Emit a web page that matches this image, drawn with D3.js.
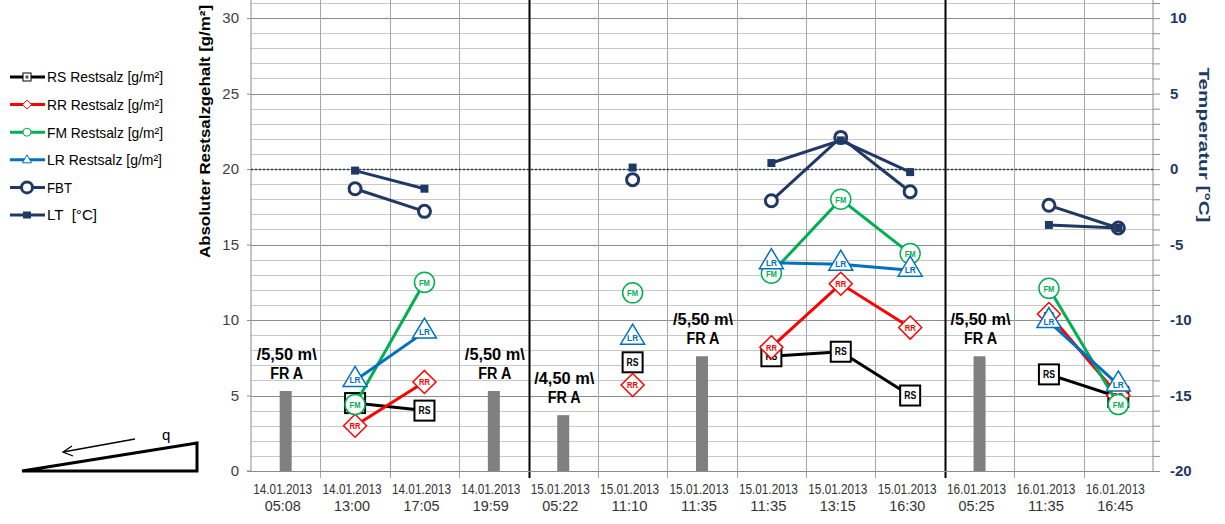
<!DOCTYPE html>
<html><head><meta charset="utf-8">
<script src="https://cdn.jsdelivr.net/npm/d3@7"></script>
<style>
body{margin:0;background:#fff;}
svg{display:block;}
.leg text{white-space:pre;}
</style></head>
<body>
<svg id="c" width="1225" height="524"></svg>
<script>
// ---- data ----
const dates = ["14.01.2013","14.01.2013","14.01.2013","14.01.2013","15.01.2013","15.01.2013","15.01.2013","15.01.2013","15.01.2013","15.01.2013","16.01.2013","16.01.2013","16.01.2013"];
const times = ["05:08","13:00","17:05","19:59","05:22","11:10","11:35","11:35","13:15","16:30","05:25","11:35","16:45"];
const rsValues  = [null,4.5,4.0,null,null,7.2,null,7.6,7.9,5.0,null,6.4,4.9];
const rrValues  = [null,3.0,5.9,null,null,5.7,null,8.2,12.4,9.5,null,10.4,5.0];
const fmValues  = [null,4.4,12.5,null,null,11.8,null,13.1,18.0,14.4,null,12.1,4.4];
const lrValues  = [null,6.0,9.2,null,null,8.8,null,13.8,13.7,13.3,null,9.9,5.7];
const fbtValues = [null,-1.3,-2.8,null,null,-0.7,null,-2.1,2.1,-1.5,null,-2.4,-3.9];
const ltValues  = [null,-0.1,-1.3,null,null,0.1,null,0.4,1.9,-0.2,null,-3.7,-3.9];
const frValues  = [5.3,null,null,5.3,3.7,null,7.6,null,null,null,7.6,null,null];
const frLabels  = ["/5,50 m\\",null,null,"/5,50 m\\","/4,50 m\\",null,"/5,50 m\\",null,null,null,"/5,50 m\\",null,null];
const frSub = "FR A";
const leftTicks = [0,5,10,15,20,25,30];
const rightTicks = [-20,-15,-10,-5,0,5,10];
const daySeparators = [4,10];
const legendNames = ["RS Restsalz [g/m²]","RR Restsalz [g/m²]","FM Restsalz [g/m²]","LR Restsalz [g/m²]","FBT","LT  [°C]"];

// ---- layout ----
const svg = d3.select("#c");
const L = 251, R = 1153, B = 471;
const idx = d3.range(dates.length);
const x = d3.scaleBand().domain(idx).range([L, R]).padding(0);
const y = d3.scaleLinear().domain([0, 31.2]).range([B, 0]);
const yT = d3.scaleLinear().domain([-20, 11.2]).range([B, 0]);
const cx = i => x(i) + x.bandwidth()/2;
const sans = "Arial, 'Liberation Sans', sans-serif";
const navy = "#1F3864";

// horizontal grid
const g = svg.append("g");
g.selectAll("line.hmin").data(d3.range(0, 32, 1)).join("line")
  .attr("x1", L).attr("x2", R).attr("y1", d => Math.round(y(d))+0.5).attr("y2", d => Math.round(y(d))+0.5)
  .attr("stroke", d => d % 5 === 0 ? "#8c8c8c" : "#c8c8c8").attr("stroke-width", 1);
// vertical grid
g.selectAll("line.v").data(d3.range(1, dates.length)).join("line")
  .attr("x1", d => Math.round(x(d))+0.5).attr("x2", d => Math.round(x(d))+0.5)
  .attr("y1", 0).attr("y2", B+7)
  .attr("stroke", d => daySeparators.includes(d) ? "#000" : "#a6a6a6")
  .attr("stroke-width", d => daySeparators.includes(d) ? 2 : 1);

// left axis
const ax = svg.append("g").attr("transform", `translate(${L},0)`)
  .call(d3.axisLeft(y).tickValues(leftTicks).tickSize(4).tickPadding(8));
ax.select(".domain").attr("stroke", "#8c8c8c").attr("d", `M-4,${B}H0V0`);
ax.selectAll(".tick line").attr("stroke", "#8c8c8c");
ax.selectAll("text").attr("font-family", sans).attr("font-size", 15).attr("fill", "#404040");

// right axis
const ar = svg.append("g").attr("transform", `translate(${R},0)`);
ar.call(d3.axisRight(yT).tickValues(d3.range(-20, 12, 1)).tickSize(7).tickFormat(""));
ar.select(".domain").attr("stroke", "#8c8c8c").attr("d", `M0,${B}V0`);
ar.selectAll(".tick line").attr("stroke", "#8c8c8c");
ar.selectAll("text.rt").data(rightTicks).join("text").attr("class", "rt")
  .attr("x", 17).attr("y", d => yT(d)).attr("dy", "0.35em")
  .attr("font-family", sans).attr("font-size", 15).attr("font-weight", "bold")
  .attr("fill", navy).text(d => d);

// bottom axis line
svg.append("line").attr("x1", L).attr("x2", R).attr("y1", B+0.5).attr("y2", B+0.5).attr("stroke", "#8c8c8c");

// x labels
const xl = svg.append("g").attr("font-family", sans).attr("font-size", 14).attr("fill", "#333").attr("text-anchor", "middle");
xl.selectAll("text.d").data(idx).join("text").attr("class", "d").attr("x", i => cx(i)-3).attr("y", 494)
  .attr("textLength", 59).attr("lengthAdjust", "spacingAndGlyphs").text(i => dates[i]);
xl.selectAll("text.t").data(idx).join("text").attr("class", "t").attr("x", i => cx(i)-3).attr("y", 511)
  .attr("textLength", 36).attr("lengthAdjust", "spacingAndGlyphs").text(i => times[i]);

// axis titles
svg.append("text").attr("transform", `translate(210,${(5+258)/2}) rotate(-90)`).attr("text-anchor", "middle")
  .attr("font-family", sans).attr("font-weight", "bold").attr("font-size", 15).attr("fill", "#000")
  .attr("textLength", 253).attr("lengthAdjust", "spacingAndGlyphs")
  .text("Absoluter Restsalzgehalt [g/m²]");
svg.append("text").attr("transform", `translate(1199,145) rotate(90)`).attr("text-anchor", "middle")
  .attr("font-family", sans).attr("font-weight", "bold").attr("font-size", 15).attr("fill", navy)
  .attr("textLength", 155).attr("lengthAdjust", "spacingAndGlyphs")
  .text("Temperatur [°C]");

// zero-temperature dotted line
svg.append("line").attr("x1", L).attr("x2", R).attr("y1", Math.round(yT(0))+0.5).attr("y2", Math.round(yT(0))+0.5)
  .attr("stroke", navy).attr("stroke-width", 1.3).attr("stroke-dasharray", "2,2");

// FR bars
const bars = svg.append("g");
const frIdx = idx.filter(i => frValues[i] != null);
bars.selectAll("rect").data(frIdx).join("rect")
  .attr("x", i => cx(i)-6).attr("width", 12).attr("y", i => y(frValues[i])).attr("height", i => B - y(frValues[i]))
  .attr("fill", "#808080");
bars.selectAll("text.l1").data(frIdx).join("text").attr("class", "l1")
  .attr("x", i => cx(i)+1).attr("y", i => y(frValues[i]) - 31).attr("text-anchor", "middle")
  .attr("font-family", sans).attr("font-weight", "bold").attr("font-size", 16)
  .attr("textLength", 60).attr("lengthAdjust", "spacingAndGlyphs").text(i => frLabels[i]);
bars.selectAll("text.l2").data(frIdx).join("text").attr("class", "l2")
  .attr("x", i => cx(i)+1).attr("y", i => y(frValues[i]) - 12).attr("text-anchor", "middle")
  .attr("font-family", sans).attr("font-weight", "bold").attr("font-size", 16)
  .attr("textLength", 33).attr("lengthAdjust", "spacingAndGlyphs").text(frSub);

// marker shapes
function drawMarker(sel, type, color, label) {
  if (type === "square") sel.append("rect").attr("x", -10).attr("y", -10).attr("width", 20).attr("height", 20).attr("fill", "#fff").attr("stroke", color).attr("stroke-width", 2);
  if (type === "diamond") sel.append("path").attr("d", "M0,-11.5L11.5,0L0,11.5L-11.5,0Z").attr("fill", "#fff").attr("stroke", color).attr("stroke-width", 1.5);
  if (type === "circle") sel.append("circle").attr("r", 10).attr("fill", "#fff").attr("stroke", color).attr("stroke-width", 1.5);
  if (type === "triangle") sel.append("path").attr("d", "M0,-14L12,6L-12,6Z").attr("fill", "#fff").attr("stroke", color).attr("stroke-width", 1.5);
  if (label) sel.append("text").attr("text-anchor", "middle").attr("y", type === "triangle" ? 3 : 3.5)
    .attr("font-family", sans).attr("font-weight", "bold").attr("font-size", type === "square" ? 10 : 9)
    .attr("textLength", type === "square" ? 12 : 11).attr("lengthAdjust", "spacingAndGlyphs")
    .attr("fill", color).text(label);
}

const salt = [
  {vals: rsValues, color: "#000000", type: "square", label: "RS"},
  {vals: rrValues, color: "#FF0000", type: "diamond", label: "RR"},
  {vals: fmValues, color: "#00B050", type: "circle", label: "FM"},
  {vals: lrValues, color: "#0070C0", type: "triangle", label: "LR"}
];
const lineGen = sc => d3.line().defined(d => d.v != null).x(d => cx(d.i)).y(d => sc(d.v));

salt.forEach(s => {
  const pts = idx.map(i => ({i, v: s.vals[i]}));
  const sg = svg.append("g");
  sg.append("path").attr("d", lineGen(y)(pts)).attr("fill", "none").attr("stroke", s.color).attr("stroke-width", 3);
  pts.filter(d => d.v != null).forEach(d => {
    drawMarker(sg.append("g").attr("transform", `translate(${cx(d.i)},${y(d.v)})`), s.type, s.color, s.label);
  });
});

// temperature series
{
  const pts = idx.map(i => ({i, v: fbtValues[i]}));
  const sg = svg.append("g");
  sg.append("path").attr("d", lineGen(yT)(pts)).attr("fill", "none").attr("stroke", navy).attr("stroke-width", 3);
  sg.selectAll("circle").data(pts.filter(d => d.v != null)).join("circle")
    .attr("cx", d => cx(d.i)).attr("cy", d => yT(d.v)).attr("r", 6).attr("fill", "#fff").attr("stroke", navy).attr("stroke-width", 3);
}
{
  const pts = idx.map(i => ({i, v: ltValues[i]}));
  const sg = svg.append("g");
  sg.append("path").attr("d", lineGen(yT)(pts)).attr("fill", "none").attr("stroke", navy).attr("stroke-width", 3);
  sg.selectAll("rect").data(pts.filter(d => d.v != null)).join("rect")
    .attr("x", d => cx(d.i)-4).attr("y", d => yT(d.v)-4).attr("width", 8).attr("height", 8).attr("fill", navy);
}

// legend
const lg = svg.append("g").attr("class", "leg");
const legColors = ["#000000","#FF0000","#00B050","#0070C0",navy,navy];
const legLen = [116,116,116,115,25,50];
legendNames.forEach((name, k) => {
  const yy = 77 + k*27.6;
  const it = lg.append("g").attr("transform", `translate(0,${yy})`);
  it.append("line").attr("x1", 10).attr("x2", 45).attr("y1", 0).attr("y2", 0).attr("stroke", legColors[k]).attr("stroke-width", 3);
  const m = it.append("g").attr("transform", "translate(27,0)");
  if (k === 0) { m.append("rect").attr("x", -4).attr("y", -4).attr("width", 8).attr("height", 8).attr("fill", "#fff").attr("stroke", "#000").attr("stroke-width", 1); m.append("rect").attr("x",-1.5).attr("y",-1.5).attr("width",3).attr("height",3).attr("fill","#555"); }
  if (k === 1) m.append("path").attr("d", "M0,-4.5L4.5,0L0,4.5L-4.5,0Z").attr("fill", "#fff").attr("stroke", "#FF0000").attr("stroke-width", 1);
  if (k === 2) m.append("circle").attr("r", 4).attr("fill", "#fff").attr("stroke", "#00B050").attr("stroke-width", 1);
  if (k === 3) m.append("path").attr("d", "M0,-5L4.5,3L-4.5,3Z").attr("fill", "#fff").attr("stroke", "#0070C0").attr("stroke-width", 1);
  if (k === 4) m.append("circle").attr("r", 5.5).attr("fill", "#fff").attr("stroke", navy).attr("stroke-width", 3);
  if (k === 5) m.append("rect").attr("x", -4).attr("y", -3.5).attr("width", 8).attr("height", 7).attr("fill", navy);
  it.append("text").attr("x", 47).attr("y", 0).attr("dy", "0.36em")
    .attr("font-family", sans).attr("font-size", 15).attr("fill", "#000")
    .attr("textLength", legLen[k]).attr("lengthAdjust", "spacingAndGlyphs").text(name);
});

// wedge sketch
const w = svg.append("g").attr("fill", "none").attr("stroke", "#000");
w.append("path").attr("d", "M22,471L197,471L197,443Z").attr("stroke-width", 3).attr("stroke-linejoin", "miter");
w.append("path").attr("d", "M135,439L63,452").attr("stroke-width", 1.3);
w.append("path").attr("d", "M72,446L63,452L73,456").attr("stroke-width", 1.3);
svg.append("text").attr("x", 162).attr("y", 440).attr("font-family", sans).attr("font-size", 15).text("q");
</script>
</body></html>
